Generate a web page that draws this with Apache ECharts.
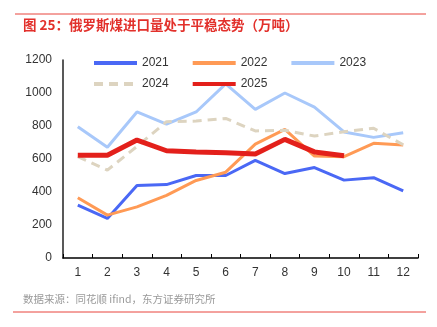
<!DOCTYPE html>
<html><head><meta charset="utf-8">
<script src="https://cdn.jsdelivr.net/npm/echarts@6/dist/echarts.min.js"></script>
<style>html,body{margin:0;padding:0;background:#fff}#c{width:437px;height:327px}</style>
</head><body><div id="c"></div>
<script>
const categories = ['1','2','3','4','5','6','7','8','9','10','11','12'];
const s2021 = [320, 240, 440, 445, 500, 500, 592, 512, 548, 472, 487, 407];
const s2022 = [365, 260, 310, 380, 470, 520, 690, 780, 618, 614, 695, 685];
const s2023 = [796, 671, 885, 812, 885, 1055, 901, 1000, 915, 764, 731, 759];
const s2024 = [614, 533, 676, 826, 830, 846, 770, 774, 739, 765, 786, 686];
const s2025 = [623, 623, 715, 650, 643, 638, 630, 719, 643, 620];
const yTicks = [0, 200, 400, 600, 800, 1000, 1200];

const font = '"Liberation Sans", Arial, "Noto Sans CJK SC", sans-serif';
const chart = echarts.init(document.getElementById('c'), null, {renderer: 'canvas'});
function line(name, data, color, width, dashed) {
  return {name, type: 'line', data, symbol: 'none', showSymbol: false,
    lineStyle: {color, width, type: dashed ? [9, 6] : 'solid'},
    itemStyle: {color}, z: name === '2025' ? 10 : 2, emphasis: {disabled: true}};
}
const legendBase = {left: 87, itemWidth: 43, itemHeight: 12, itemGap: 22,
  itemStyle: {opacity: 0},
  lineStyle: {width: 4},
  textStyle: {fontSize: 12, color: '#333', fontFamily: font}};
chart.setOption({
  animation: false,
  textStyle: {fontFamily: font},
  graphic: [
    {type: 'line', shape: {x1: 15, y1: 14, x2: 426, y2: 14}, style: {stroke: '#e8453c', lineWidth: 1}},
    {type: 'text', left: 23, top: 18, style: {text: '图 25：俄罗斯煤进口量处于平稳态势（万吨）', fill: '#e2302b', font: 'bold 13.5px "Noto Sans CJK SC", sans-serif'}},
    {type: 'text', left: 23, top: 294, style: {text: '数据来源：同花顺 ifind，东方证券研究所', fill: '#9a9a9a', font: '10.5px "Noto Sans CJK SC", sans-serif'}},
    {type: 'line', shape: {x1: 13, y1: 312, x2: 426, y2: 312}, style: {stroke: '#e8453c', lineWidth: 1}}
  ],
  legend: [
    Object.assign({data: ['2021', '2022', '2023'], top: 52}, legendBase),
    Object.assign({data: ['2024', '2025'], top: 73}, legendBase)
  ],
  grid: {left: 63, right: 19, top: 60, bottom: 69, containLabel: false},
  xAxis: {type: 'category', data: categories, boundaryGap: true,
    axisLine: {lineStyle: {color: '#000', width: 1.5}},
    axisTick: {show: true, inside: true, length: 4, lineStyle: {color: '#000'}},
    axisLabel: {color: '#333', fontSize: 12, margin: 9, fontFamily: font}},
  yAxis: {type: 'value', min: yTicks[0], max: yTicks[yTicks.length - 1], interval: 200,
    axisLine: {show: true, lineStyle: {color: '#222', width: 1.5}},
    axisTick: {show: false},
    splitLine: {show: false},
    axisLabel: {color: '#333', fontSize: 12, margin: 11, fontFamily: font,
      formatter: v => String(v)}},
  series: [
    line('2021', s2021, '#4a68f5', 3),
    line('2022', s2022, '#ff9a55', 3),
    line('2023', s2023, '#a8c8fa', 3),
    line('2024', s2024, '#ddd4c0', 3, true),
    line('2025', s2025, '#e3201b', 5)
  ]
});
</script></body></html>
